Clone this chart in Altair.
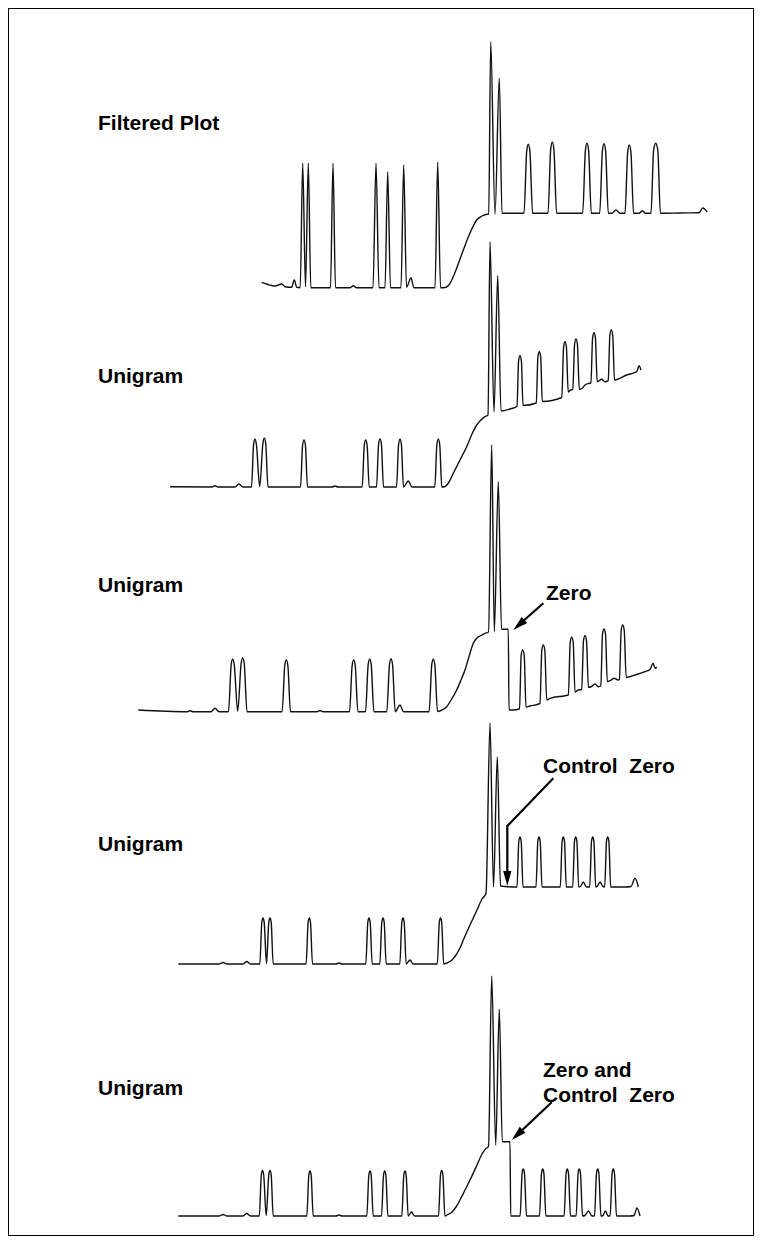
import altair as alt
import pandas as pd

# ---- chromatogram traces: (retention position, detector level) ----
trace_filtered = [(261.7,282.3),(268,284.5),(275,286),(281.7,284),(285,286.7),(291.7,287.3),(294.3,280),(296.7,287.3),
    (300.2,287.7),(302.7,163.3),(305.5,286.7),(308.3,163.3),(310.8,287.7),(330.5,287.7),(333,163.3),(335.5,287.7),
    (350,287.7),(353.3,285.7),(356.5,287.7),(373,287.7),(376,163.3),(379,287.7),(385,287.7),(387.7,171.7),(390.5,287.7),
    (401,287.7),(403.7,165),(406.5,287.3),(411,278),(414,287.7),(435,287.7),(437.7,162.3),(440.5,287.7),
    (445,287.5),(450,283.3),(456,270),(463.3,250),(470,233),(476.7,220),(482,216),(486.7,214.3),(488.7,214),
    (490.7,41.7),(495,214.3),(499.3,78.3),(502,213.3),(510,213.3),
    (524,213.3),(526.7,151.3),(528.3,144.3),(529.9,151.3),(532.6,213.3),
    (548,213.3),(550.7,149.3),(552.3,142.3),(553.9,149.3),(556.6,213.3),
    (582.7,213.3),(585.4,150.3),(587,143.3),(588.6,150.3),(591.3,213.3),
    (599.7,213.3),(602.4,150.7),(604,143.7),(605.6,150.7),(608.3,213.3),
    (612,213.3),(616,210),(620,213.3),
    (625,213.3),(627.7,152),(629.3,145),(630.9,152),(633.6,213.3),
    (639,213.3),(642.3,210.7),(645.5,213.3),
    (651,213.3),(653.6,150.3),(655.7,143.3),(657.8,150.3),(660.4,213.3),
    (680,213),(699,212.7),(702.7,208),(707.3,212)]

trace_unigram_a = [(170,486.7),(212,487),(215,485.7),(218,487),(235,487),(239,484),(243,487),
    (251.5,487),(253.6,444.3),(255,439.3),(256.4,444.3),(259.7,486.7),(262.9,443.3),(264.3,438.3),(265.7,443.3),(268,487),
    (300.5,487),(302.6,445),(304,440),(305.4,445),(307.5,487),
    (332,487),(335,486),(338,487),
    (362.2,487),(364.3,445),(365.7,440),(367.1,445),(369.2,487),
    (376.5,487),(378.6,444),(380,439),(381.4,444),(383.5,487),
    (396.5,487),(398.6,444.3),(400,439.3),(401.4,444.3),(403.5,487),
    (408.3,481),(412,487),
    (434.8,487),(436.9,444.3),(438.3,439.3),(439.7,444.3),(441.8,487),
    (445,486.5),(449,482),(453.3,473.3),(460,460),(466.7,446.7),(472,434),(476.7,425),(481,420),(485,416.7),(488,415),
    (490,241.7),(494,412),(497.7,275.7),(501,411),(510,409),
    (517,406.5),(518.6,361),(520,355.7),(521.4,361),(523,405.5),
    (536.3,403),(537.9,357),(539.3,351.7),(540.7,357),(542.3,401.5),
    (561.8,397.5),(563.6,347),(565,341.7),(566.4,347),(568.2,392),(570.5,390),
    (572.8,389.5),(574.6,344),(576,339),(577.4,344),(579.3,389.3),
    (582,388.5),(585,385),(588.3,383.5),
    (590.9,383),(592.6,338),(594,332.7),(595.4,338),(597.2,381.7),
    (601.7,379.3),(605,381.7),
    (608.2,381),(609.9,335),(611.3,330),(612.7,335),(614.5,380),
    (626.7,375),(636.7,371.7),(639,365.7),(641,370)]

trace_unigram_b = [(138.3,710),(187,711.7),(190,710.8),(193,711.7),(211,711.7),(215,708.3),(219,711.7),
    (228.5,711.7),(231.2,664.3),(232.7,659.3),(234.2,664.3),(237.7,711.3),(241.2,663),(242.7,658),(244.2,663),(247,711.7),
    (282.1,711.7),(284.8,665),(286.3,660),(287.8,665),(290.5,711.7),
    (317,711.7),(320,710.5),(323,711.7),
    (349.5,711.7),(352.2,665),(353.7,660),(355.2,665),(357.9,711.7),
    (365.5,711.7),(368.2,664.3),(369.7,659.3),(371.2,664.3),(373.9,711.7),
    (386.8,711.7),(389.5,664),(391,659),(392.5,664),(395.2,711.7),
    (400,705),(403.5,711.7),
    (429.1,711.7),(431.8,664.3),(433.3,659.3),(434.8,664.3),(437.5,711.5),
    (441,710.5),(446.7,706.7),(451.7,699),(456.7,690),(461,680),(465,670),(469,656.7),(473.3,643.3),(477,638),(480,636),
    (485,633.3),(488.5,632),(491.7,445),(494.3,631.7),(498.3,481.7),(501.5,629.3),(508.3,629.3),(509,710),(512,710),
    (519.5,709),(521.2,655),(522.7,650),(524.2,655),(526,707),(530,706),
    (540,703.5),(541.8,650),(543.3,645),(544.8,650),(546.7,700),(550,698.3),(565,695.7),
    (568.4,695),(570.2,642.3),(571.7,637.3),(573.2,642.3),(575,692),(578.3,690),
    (581.7,689.5),(583.5,640.7),(585,635.7),(586.5,640.7),(588.4,687.3),
    (591.5,686.5),(595,684),(598.3,686.7),
    (600.8,686),(602.5,634),(604,629),(605.5,634),(607.3,681.5),
    (610,680.7),(614.3,678.3),(618,680),
    (619.4,679.6),(621.2,630),(622.7,625),(624.2,630),(626.2,677.5),
    (635,675),(645,671.7),(650,669.5),(653,663.3),(655,668),(657,667.5)]

trace_unigram_c = [(178.3,964),(219,964),(223,962.5),(227,964),(243,964),(246.7,961.5),(250.5,964),
    (259.8,964),(261.8,922.5),(263,918),(264.2,922.5),(266.5,963.5),(268.8,922.5),(270,918),(271.2,922.5),(273.2,964),
    (306.1,964),(308.1,922.5),(309.3,918),(310.5,922.5),(312.5,964),
    (336,964),(339,963),(342,964),
    (365.8,964),(367.8,922.5),(369,918),(370.2,922.5),(372.2,964),
    (379.8,964),(381.8,922.5),(383,918),(384.2,922.5),(386.2,964),
    (399.8,964),(401.8,922.5),(403,918),(404.2,922.5),(406.2,964),
    (410,960),(413,964),
    (437.3,964),(439.3,922.5),(440.5,918),(441.7,922.5),(443.7,964),
    (447,963),(452,960),(456,955),(460,948),(463.3,940),(470,925),(477,910),(482,899),(486,893.5),
    (490,723),(493.5,887),(497.3,757),(500.5,886),(505,886.5),
    (517,887),(518.8,841.5),(520,837),(521.2,841.5),(523,887),
    (536,887),(537.8,841.5),(539,837),(540.2,841.5),(542,887),
    (560.3,887),(562.1,841.5),(563.3,837),(564.5,841.5),(566.3,887),
    (572.7,887),(574.5,841.5),(575.7,837),(576.9,841.5),(578.7,887),
    (580.5,886.5),(583.3,882),(586.5,887),
    (589.7,887),(591.5,841.5),(592.7,837),(593.9,841.5),(595.7,887),
    (597.5,886),(600,882),(602.5,886),
    (604.7,887),(606.5,841.5),(607.7,837),(608.9,841.5),(610.7,887),
    (625,887),(631,886.5),(635,878.3),(638.3,886.7)]

trace_unigram_d = [(178.3,1216),(219,1216),(223,1214.5),(227,1216),(243,1216),(246.7,1213.5),(250.5,1216),
    (259.3,1216),(261.3,1175),(262.5,1170.5),(263.7,1175),(266.2,1215.5),(268.8,1175),(270,1170.5),(271.2,1175),(273.2,1216),
    (306.8,1216),(308.8,1175.5),(310,1171),(311.2,1175.5),(313.2,1216),
    (336,1216),(339,1215),(342,1216),
    (366.8,1216),(368.8,1175.5),(370,1171),(371.2,1175.5),(373.2,1216),
    (381.5,1216),(383.5,1175.5),(384.7,1171),(385.9,1175.5),(387.9,1216),
    (401.8,1216),(403.8,1175.5),(405,1171),(406.2,1175.5),(408.2,1216),
    (411.5,1212),(414.5,1216),
    (438.5,1216),(440.5,1175),(441.7,1170.5),(442.9,1175),(444.9,1216),
    (447,1215),(452,1212),(456,1207),(460,1200),(465,1190),(470,1180),(477,1165),(482,1154),(486,1148.5),(488.5,1146.5),
    (491.7,976),(495.7,1145),(499.3,1009.3),(502.3,1141.7),(510,1141.7),(510.7,1216),(513,1216),
    (520.1,1216),(522.1,1173.5),(523.3,1169),(524.5,1173.5),(526.5,1216),
    (539.5,1216),(541.5,1173.5),(542.7,1169),(543.9,1173.5),(545.9,1216),
    (564.1,1216),(566.1,1173.5),(567.3,1169),(568.5,1173.5),(570.5,1216),
    (576.1,1216),(578.1,1173.5),(579.3,1169),(580.5,1173.5),(582.5,1216),
    (585,1215.5),(588.5,1211),(592,1216),
    (594.5,1216),(596.5,1173.5),(597.7,1169),(598.9,1173.5),(600.9,1216),
    (603,1215.5),(605.5,1211),(608,1216),
    (610.1,1216),(612.1,1173.5),(613.3,1169),(614.5,1173.5),(616.5,1216),
    (630,1216),(634,1215.5),(637,1208),(640,1216)]

trace_names = ["Filtered Plot", "Unigram 1", "Unigram 2", "Unigram 3", "Unigram 4"]
traces = [trace_filtered, trace_unigram_a, trace_unigram_b, trace_unigram_c, trace_unigram_d]

# ---- left-hand labels ----
label_text = ["Filtered Plot", "Unigram", "Unigram", "Unigram", "Unigram"]
label_pos = [130, 383, 592, 851, 1095]

# ---- annotations ----
note_text = ["Zero", "Control\u00a0 Zero", "Zero and", "Control\u00a0 Zero"]
note_x = [546, 543, 543, 543]
note_y = [600, 773, 1077, 1102]

arrow_shafts = {
    "zero": [(543.3, 603.3), (517, 626.5)],
    "control": [(553.3, 778.3), (507.3, 826), (507.3, 876)],
    "both": [(551.7, 1102.3), (516, 1136)],
}
arrow_tips = [(513.3, 630, 228), (507.3, 886, 180), (511.7, 1140, 226.7)]

# ---- tables ----
rows = []
for name, pts in zip(trace_names, traces):
    for i, (x, y) in enumerate(pts):
        rows.append({"trace": name, "i": i, "x": x, "y": y})
df_tr = pd.DataFrame(rows)

arows = []
for name, pts in arrow_shafts.items():
    for i, (x, y) in enumerate(pts):
        arows.append({"arrow": name, "i": i, "x": x, "y": y})
df_ar = pd.DataFrame(arows)
df_tip = pd.DataFrame(arrow_tips, columns=["x", "y", "angle"])
df_lab = pd.DataFrame({"text": label_text, "x": [98] * len(label_text), "y": label_pos})
df_note = pd.DataFrame({"text": note_text, "x": note_x, "y": note_y})

W, H = 746, 1228
xs = alt.Scale(domain=[8, 8 + W], nice=False, zero=False)
ys = alt.Scale(domain=[8, 8 + H], reverse=True, nice=False, zero=False)
X = lambda: alt.X("x:Q", scale=xs, axis=None)
Y = lambda: alt.Y("y:Q", scale=ys, axis=None)

lines = alt.Chart(df_tr).mark_line(interpolate="monotone", color="#111111", strokeWidth=1.4,
                                   strokeJoin="round").encode(
    x=X(), y=Y(), detail="trace:N", order="i:Q")

shafts = alt.Chart(df_ar).mark_line(color="black", strokeWidth=2.2).encode(
    x=X(), y=Y(), detail="arrow:N", order="i:Q")

heads = alt.Chart(df_tip).mark_point(shape="M0,0 L0.55,2 L-0.55,2 Z", filled=True, size=225,
                                     color="black", opacity=1).encode(
    x=X(), y=Y(), angle=alt.Angle("angle:Q", scale=None))

labels = alt.Chart(df_lab).mark_text(align="left", baseline="alphabetic", font="Liberation Sans",
                                     fontWeight="bold", fontSize=21, color="black").encode(
    x=X(), y=Y(), text="text:N")

notes = alt.Chart(df_note).mark_text(align="left", baseline="alphabetic", font="Liberation Sans",
                                     fontWeight="bold", fontSize=21, color="black").encode(
    x=X(), y=Y(), text="text:N")

chart = alt.layer(lines, shafts, heads, labels, notes).properties(
    width=W, height=H, padding=0, autosize="none", background="white"
).configure_view(stroke="black", strokeWidth=2)

chart.save("out.html", embed_options={"renderer": "svg", "actions": False})
